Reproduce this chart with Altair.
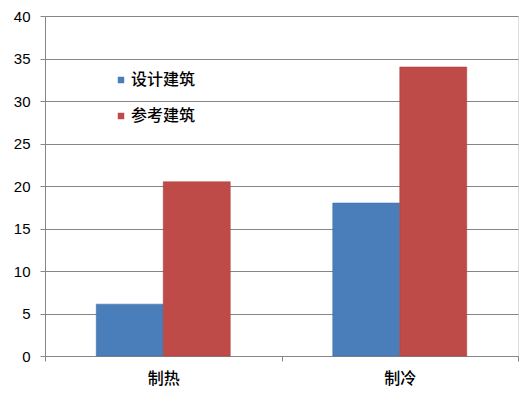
import altair as alt
import pandas as pd

categories = ["制热", "制冷"]
series = ["设计建筑", "参考建筑"]
design_vals = [6.1, 18.0]
ref_vals = [20.5, 34.0]
colors = ["#4A7EBB", "#BE4B48"]

rows = []
for i, c in enumerate(categories):
    rows.append({"cat": c, "series": series[0], "value": design_vals[i]})
    rows.append({"cat": c, "series": series[1], "value": ref_vals[i]})
df = pd.DataFrame(rows)

font = "Noto Sans CJK SC"
numfont = "Liberation Sans"

chart = alt.Chart(df).mark_bar(strokeWidth=0.6, strokeOpacity=0.9).encode(
    x=alt.X("cat:N", sort=categories, title=None,
            scale=alt.Scale(paddingInner=0, paddingOuter=0),
            axis=alt.Axis(labelAngle=0, tickBand="extent", tickSize=5,
                          tickColor="#868686", domainColor="#868686",
                          labelFont=font, labelFontSize=16, labelColor="#000",
                          labelFontWeight=500,
                          labelPadding=9, grid=False)),
    xOffset=alt.XOffset("series:N", sort=series,
                        scale=alt.Scale(paddingInner=0, paddingOuter=0.765)),
    y=alt.Y("value:Q", title=None,
            scale=alt.Scale(domain=[0, 40], nice=False),
            axis=alt.Axis(values=[0, 5, 10, 15, 20, 25, 30, 35, 40], tickSize=5,
                          tickColor="#868686", domainColor="#868686",
                          gridColor="#868686", gridWidth=1, grid=True,
                          labelFont=numfont, labelFontSize=15, labelColor="#000",
                          labelPadding=10)),
    color=alt.Color("series:N", sort=series,
                    scale=alt.Scale(domain=series, range=colors),
                    legend=alt.Legend(title=None, orient="none", legendX=68, legendY=56,
                                      symbolType="square", symbolSize=42,
                                      symbolStrokeWidth=0, labelFont=font,
                                      labelFontSize=16, labelColor="#000",
                                      labelFontWeight=500,
                                      rowPadding=20, labelOffset=2, padding=0)),
    stroke=alt.Stroke("series:N", sort=series,
                      scale=alt.Scale(domain=series, range=["#3F6FA6", "#A8403D"]),
                      legend=None),
).properties(
    width=473, height=340,
    autosize=alt.AutoSizeParams(type="none"),
    padding={"left": 45, "top": 16, "right": 11, "bottom": 39},
).configure_view(stroke=None).configure(background="white")

chart.save("out.html", embed_options={"renderer": "svg", "actions": False})
